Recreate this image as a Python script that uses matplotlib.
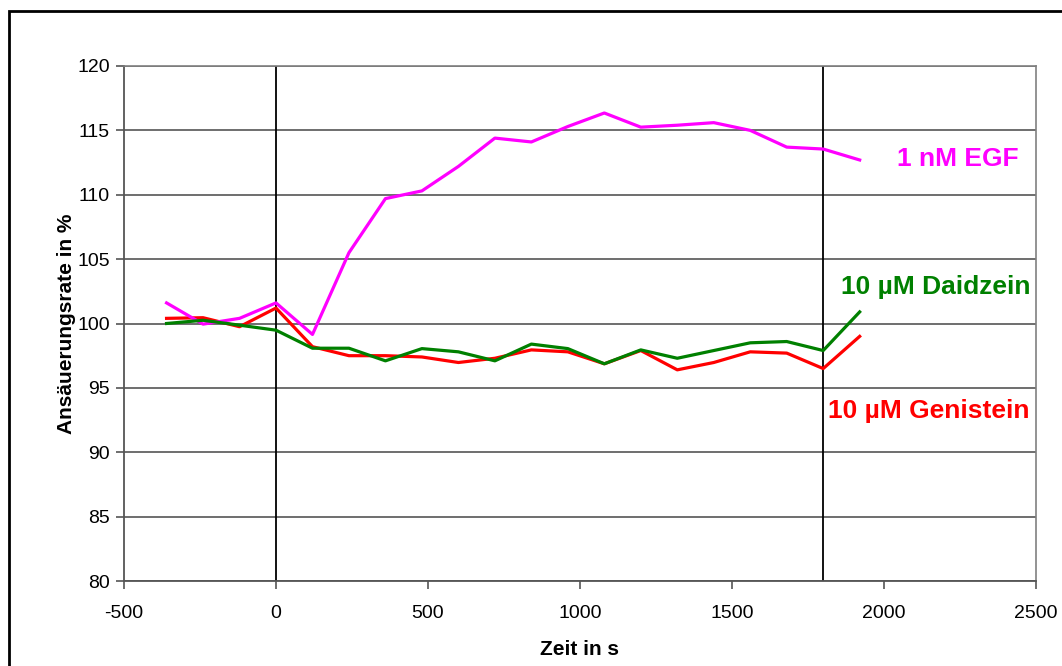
import matplotlib
matplotlib.use("Agg")
import matplotlib.pyplot as plt
from matplotlib.patches import Rectangle

plt.rcParams['font.family'] = ['Liberation Sans', 'DejaVu Sans']
plt.rcParams['axes.unicode_minus'] = False

# Zeitpunkte der Messung (s), Behandlung von 0 bis 1800 s
zeit = [-360, -240, -120, 0, 120, 240, 360, 480, 600, 720, 840, 960,
        1080, 1200, 1320, 1440, 1560, 1680, 1800, 1920]

egf = [101.6, 99.95, 100.4, 101.6, 99.15, 105.5, 109.7, 110.3, 112.2, 114.4,
       114.1, 115.3, 116.35, 115.25, 115.4, 115.6, 115.0, 113.7, 113.55, 112.7]
genistein = [100.4, 100.45, 99.75, 101.2, 98.2, 97.5, 97.5, 97.4, 96.97, 97.3,
             97.95, 97.8, 96.87, 97.9, 96.4, 96.97, 97.8, 97.7, 96.5, 99.0]
daidzein = [100.0, 100.25, 99.87, 99.48, 98.08, 98.08, 97.1, 98.05, 97.8, 97.1,
            98.4, 98.05, 96.87, 97.95, 97.3, 97.9, 98.5, 98.6, 97.9, 100.9]

behandlung = [0, 1800]
x_ticks = [-500, 0, 500, 1000, 1500, 2000, 2500]
y_ticks = [80, 85, 90, 95, 100, 105, 110, 115, 120]

fig = plt.figure(figsize=(10.62, 6.66), dpi=100)
ax = fig.add_axes([124 / 1062, 1 - 581 / 666, (1036 - 124) / 1062, (581 - 66) / 666])

ax.set_xlim(-500, 2500)
ax.set_ylim(80, 120)
ax.set_xticks(x_ticks)
ax.set_yticks(y_ticks)

# horizontale Gitterlinien
ax.yaxis.grid(True, color='#555555', linewidth=1.2)
ax.xaxis.grid(False)
ax.set_axisbelow(True)

for xv in behandlung:
    ax.axvline(xv, color='black', linewidth=1.3, zorder=1)

ax.plot(zeit, egf, color='#FF00FF', linewidth=2.3, zorder=3)
ax.plot(zeit, daidzein, color='#008000', linewidth=2.3, zorder=3)
ax.plot(zeit, genistein, color='#FF0000', linewidth=2.3, zorder=2.9)

ax.text(2043, 112.8, '1 nM EGF', color='#FF00FF', fontsize=19,
        fontweight='bold', ha='left', va='center')
ax.text(1857, 102.87, '10 µM Daidzein', color='#008000', fontsize=19,
        fontweight='bold', ha='left', va='center')
ax.text(1816, 93.2, '10 µM Genistein', color='#FF0000', fontsize=19,
        fontweight='bold', ha='left', va='center')

for side in ('top', 'right'):
    ax.spines[side].set_color('#808080')
    ax.spines[side].set_linewidth(1.2)
for side in ('left', 'bottom'):
    ax.spines[side].set_color('#555555')
    ax.spines[side].set_linewidth(1.3)

ax.tick_params(axis='both', direction='out', length=6, width=1.2,
               color='#555555', labelsize=14)
ax.tick_params(axis='x', pad=11)
ax.tick_params(axis='y', pad=4)

ax.set_xlabel('Zeit in s', fontsize=15, fontweight='bold', labelpad=13)
ax.set_ylabel('Ansäuerungsrate in %', fontsize=15, fontweight='bold', labelpad=1)

# Rahmen um das Diagramm
fig.patches.append(Rectangle((9 / 1062, -0.1), 1.2, 1 - 11 / 666 + 0.1,
                             transform=fig.transFigure, fill=False,
                             edgecolor='black', linewidth=2))

fig.savefig('out.png', dpi=100)
